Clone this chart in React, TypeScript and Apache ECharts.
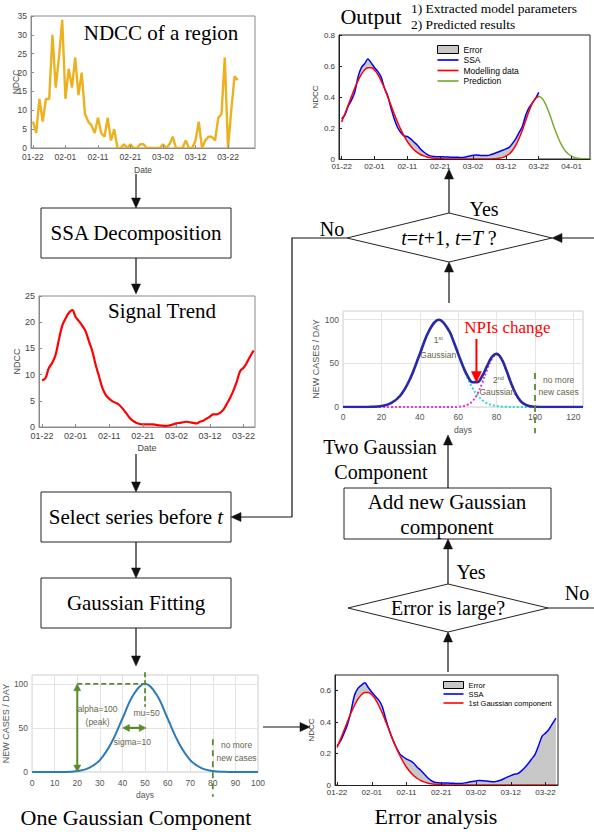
import React, { useEffect, useRef } from "react";
import * as echarts from "echarts";

// ---------- DATA ----------
const dateTicks = ["01-22", "02-01", "02-11", "02-21", "03-02", "03-12", "03-22", "04-01"];
const dateTickDays = [0, 10, 20, 30, 40, 50, 60, 70];

// daily NDCC of a region (from 01-22)
const ndccRegion = [7, 4, 13, 7, 13, 13, 30, 16, 24, 34, 13, 21, 16, 24, 14, 20, 9, 7, 6, 4, 8, 4, 3, 8, 2, 5, 0, 0, 1, 0, 1, 0, 0, 1, 1, 0, 0, 0, 0, 0, 1, 0, 1, 3, 0, 0, 0, 2, 0, 0, 2, 7, 0, 2, 3, 3, 2, 8, 9, 24, 0, 10, 19, 18];

// SSA signal trend
const signalTrend = [8.9, 9.3, 11.2, 12.2, 13.7, 16.6, 19.3, 20.7, 21.8, 22.3, 21.0, 20.2, 19.3, 18.2, 16.3, 14.4, 11.8, 9.6, 7.4, 6.1, 5.4, 4.9, 4.6, 4.2, 3.5, 2.7, 1.8, 1.2, 0.8, 0.6, 0.5, 0.5, 0.5, 0.5, 0.4, 0.3, 0.25, 0.2, 0.3, 0.5, 0.7, 0.8, 0.9, 1.0, 0.9, 0.8, 0.7, 1.0, 1.2, 1.6, 2.0, 2.4, 2.4, 2.7, 3.3, 4.4, 5.6, 7.0, 8.7, 10.7, 11.3, 12.3, 13.5, 14.6];

// Output panel (normalised), days 0..60
const outSSA = [0.26, 0.285, 0.34, 0.38, 0.43, 0.53, 0.59, 0.615, 0.645, 0.62, 0.59, 0.565, 0.53, 0.46, 0.41, 0.33, 0.26, 0.205, 0.17, 0.15, 0.145, 0.13, 0.11, 0.09, 0.065, 0.045, 0.03, 0.02, 0.016, 0.015, 0.015, 0.014, 0.013, 0.012, 0.011, 0.011, 0.01, 0.01, 0.014, 0.019, 0.024, 0.026, 0.024, 0.022, 0.023, 0.025, 0.032, 0.04, 0.048, 0.056, 0.065, 0.075, 0.1, 0.13, 0.17, 0.21, 0.28, 0.33, 0.36, 0.39, 0.43];
const outModel = [0.239, 0.292, 0.348, 0.404, 0.458, 0.506, 0.546, 0.574, 0.588, 0.588, 0.574, 0.546, 0.506, 0.458, 0.404, 0.348, 0.292, 0.239, 0.191, 0.149, 0.113, 0.084, 0.06, 0.043, 0.029, 0.02, 0.013, 0.008, 0.005, 0.003, 0.002, 0.001, 0, 0, 0, 0, 0, 0, 0, 0, 0, 0, 0, 0, 0, 0, 0.001, 0.002, 0.005, 0.009, 0.018, 0.032, 0.055, 0.088, 0.132, 0.185, 0.246, 0.306, 0.357, 0.392, 0.405];
const outPredStartDay = 60;
const outPred = [0.405, 0.392, 0.357, 0.306, 0.246, 0.185, 0.132, 0.088, 0.055, 0.032, 0.018, 0.009, 0.0045, 0.002, 0.001, 0.0004, 0];

// Error analysis panel, days 0..63
const errSSA = [0.25, 0.28, 0.33, 0.385, 0.47, 0.57, 0.615, 0.635, 0.65, 0.62, 0.59, 0.565, 0.54, 0.5, 0.42, 0.35, 0.29, 0.24, 0.2, 0.18, 0.165, 0.155, 0.14, 0.115, 0.095, 0.072, 0.048, 0.03, 0.018, 0.014, 0.013, 0.013, 0.012, 0.011, 0.01, 0.009, 0.01, 0.014, 0.019, 0.023, 0.026, 0.028, 0.027, 0.025, 0.022, 0.02, 0.024, 0.03, 0.04, 0.05, 0.06, 0.068, 0.072, 0.088, 0.11, 0.135, 0.165, 0.195, 0.25, 0.31, 0.33, 0.355, 0.39, 0.425];
const errGauss1 = [0.239, 0.292, 0.348, 0.404, 0.458, 0.506, 0.546, 0.574, 0.588, 0.588, 0.574, 0.546, 0.506, 0.458, 0.404, 0.348, 0.292, 0.239, 0.191, 0.149, 0.113, 0.084, 0.06, 0.043, 0.029, 0.02, 0.013, 0.008, 0.005, 0.003, 0.002, 0.001, 0, 0, 0, 0, 0, 0, 0, 0, 0, 0, 0, 0, 0, 0, 0, 0, 0, 0, 0, 0, 0, 0, 0, 0, 0, 0, 0, 0, 0, 0, 0, 0];

// One Gaussian component illustration
const oneGaussDays = [0, 5, 10, 15, 20, 25, 30, 35, 40, 45, 50, 55, 60, 65, 70, 75, 80, 85, 90, 95, 100];
const oneGaussCases = [0, 0, 0, 0, 1.1, 4.4, 13.5, 32.5, 60.7, 88.2, 100, 88.2, 60.7, 32.5, 13.5, 4.4, 1.1, 0.2, 0, 0, 0];

// Two Gaussian components illustration
const twoDays = [0, 5, 10, 15, 20, 25, 30, 35, 40, 45, 50, 55, 57.5, 60, 62.5, 65, 67.5, 70, 72.5, 75, 77.5, 80, 82.5, 85, 87.5, 90, 92.5, 95, 97.5, 100, 105, 110, 115, 120, 125];
const twoFirst = [0, 0, 0, 0.2, 1.1, 4.4, 13.5, 32.5, 60.7, 88.2, 100, 88.2, 75.5, 60.7, 45.8, 32.5, 21.6, 13.5, 8.0, 4.4, 2.3, 1.1, 0.5, 0.2, 0.1, 0, 0, 0, 0, 0, 0, 0, 0, 0, 0];
const twoSecond = [0, 0, 0, 0, 0, 0, 0, 0, 0, 0, 0, 0.01, 0.05, 0.23, 0.85, 2.6, 6.8, 15, 27.5, 42.4, 55, 60, 55, 42.4, 27.5, 15, 6.8, 2.6, 0.85, 0.23, 0, 0, 0, 0, 0];
const twoTotal = [0, 0, 0, 0.2, 1.1, 4.4, 13.5, 32.5, 60.7, 88.2, 100, 88.2, 75.6, 60.9, 46.7, 35.1, 28.4, 28.5, 35.5, 46.8, 57.3, 61.1, 55.5, 42.6, 27.6, 15, 6.8, 2.6, 0.85, 0.23, 0, 0, 0, 0, 0];

// ---------- STYLE ----------
const SANS = "Liberation Sans, Arial, sans-serif";
const SERIF = "Liberation Serif, Times New Roman, serif";
const GREEN = "#5a8a2e";
const ANNO = "#66664a";
const LINE_ICON = "path://M0,0H20V1.6H0Z";

const pairs = (vals: number[], start = 0) => vals.map((v, i) => [start + i, v]);
const pairsXY = (xs: number[], ys: number[]) => xs.map((x, i) => [x, ys[i]]);

function dateX(gridIndex: number, min: number, max: number, line: string, label: string, fontSize: number, margin: number, name?: string, nameGap?: number) {
  const vals = dateTickDays.filter((d) => d <= max);
  return {
    type: "value", gridIndex, min, max, z: 5,
    name, nameLocation: "middle", nameGap,
    nameTextStyle: { fontFamily: SANS, fontSize, color: label },
    axisLine: { show: true, onZero: false, lineStyle: { color: line, width: 1 } },
    axisTick: { show: true, inside: true, length: 3, customValues: vals, lineStyle: { color: line } },
    axisLabel: { customValues: vals, formatter: (v: number) => dateTicks[Math.round(v / 10)] ?? "", fontFamily: SANS, fontSize, color: label, margin },
    splitLine: { show: false },
  };
}
function ndccY(gridIndex: number, max: number, values: number[], line: string, label: string, fontSize: number, nameGap: number, extra: any = {}) {
  return {
    type: "value", gridIndex, min: 0, max, z: 5,
    name: "NDCC", nameLocation: "middle", nameGap, nameRotate: 90,
    nameTextStyle: { fontFamily: SANS, fontSize, color: label },
    axisLine: { show: true, onZero: false, lineStyle: { color: line, width: 1 } },
    axisTick: { show: true, inside: true, length: 3, customValues: values, lineStyle: { color: line } },
    axisLabel: { customValues: values, fontFamily: SANS, fontSize, color: label, margin: 4 },
    splitLine: { show: false },
    ...extra,
  };
}
function shotX(gridIndex: number, max: number, step: number, nameGap: number, margin: number) {
  return {
    type: "value", gridIndex, min: 0, max, interval: step,
    name: "days", nameLocation: "middle", nameGap,
    nameTextStyle: { fontFamily: SANS, fontSize: 8.5, color: "#555" },
    axisLine: { show: false }, axisTick: { show: false },
    axisLabel: { formatter: (v: number) => (v % step === 0 ? String(v) : ""), fontFamily: SANS, fontSize: 8.5, color: "#555", margin },
    splitLine: { show: true, lineStyle: { color: "#e4e4e4", width: 1 } },
  };
}
function shotY(gridIndex: number, nameGap: number) {
  return {
    type: "value", gridIndex, min: 0, max: 110, interval: 50,
    name: "NEW CASES / DAY", nameLocation: "middle", nameGap, nameRotate: 90,
    nameTextStyle: { fontFamily: SANS, fontSize: 9, color: "#555" },
    axisLine: { show: false }, axisTick: { show: false },
    axisLabel: { formatter: (v: number) => (v % 50 === 0 ? String(v) : ""), showMaxLabel: false, fontFamily: SANS, fontSize: 8.5, color: "#555", margin: 4 },
    splitLine: { show: true, lineStyle: { color: "#e4e4e4", width: 1 } },
  };
}
const line = (name: string, data: any[], gi: number, color: string, width: number, extra: any = {}) => ({
  type: "line", name, data, xAxisIndex: gi, yAxisIndex: gi, showSymbol: false, symbol: "none",
  lineStyle: { color, width }, itemStyle: { color }, ...extra,
});
// grey band between two curves: grey area under the upper curve, white area under the lower one
function errorFill(prefix: string, gi: number, a: number[], b: number[]) {
  const upper = a.map((u, i) => Math.max(u, b[i]));
  const lower = a.map((u, i) => Math.min(u, b[i]));
  return [
    line("Error", pairs(upper), gi, "#c8c8c8", 0, { smooth: 0.3, silent: true, areaStyle: { color: "#c8c8c8", opacity: 1, origin: "start" } }),
    line(prefix + "_cover", pairs(lower), gi, "#ffffff", 0, { smooth: 0.3, silent: true, areaStyle: { color: "#ffffff", opacity: 1, origin: "start" } }),
  ];
}

// annotation anchors (data coordinates)
const oneAnno = {
  peakGuide: [[20, 100], [50, 100]],
  muGuide: [[50, 113], [50, 74]],
  endGuide: [[80, 37], [80, -28]],
  alphaArrow: [[20, 0], [20, 100]],
  sigmaArrow: [[40, 50], [50.5, 50]],
  texts: [
    { t: "alpha=100", p: [29, 72] }, { t: "(peak)", p: [29, 57] },
    { t: "mu=50", p: [50.7, 67] }, { t: "sigma=10", p: [44.4, 34] },
    { t: "no more", p: [90.5, 31] }, { t: "new cases", p: [90.5, 16] },
  ],
};
const twoAnno = {
  endGuide: [[100, 39], [100, -30]],
  npiArrow: [[69.5, 78], [69.5, 28]],
  npiLabel: [85.6, 91],
  texts: [
    { t: "Gaussian", p: [49.6, 59.5] }, { t: "Gaussian", p: [80.4, 17] },
    { t: "no more", p: [112.3, 31] }, { t: "new cases", p: [112.3, 17] },
  ],
  sup: [{ n: "1", s: "st", p: [49.6, 77] }, { n: "2", s: "nd", p: [80.9, 31] }],
};

// ---------- graphic helpers ----------
function head(tip: number[], from: number[], len: number, hw: number, color: string) {
  const dx = tip[0] - from[0], dy = tip[1] - from[1];
  const d = Math.hypot(dx, dy) || 1;
  const ux = dx / d, uy = dy / d;
  const bx = tip[0] - ux * len, by = tip[1] - uy * len;
  return { type: "polygon", z: 50, shape: { points: [[tip[0], tip[1]], [bx - uy * hw, by + ux * hw], [bx + uy * hw, by - ux * hw]] }, style: { fill: color, stroke: color, lineWidth: 0.5 } };
}
function seg(a: number[], b: number[], color = "#111", lw = 1.2, dash?: number[]) {
  return { type: "line", z: 50, shape: { x1: a[0], y1: a[1], x2: b[0], y2: b[1] }, style: { stroke: color, lineWidth: lw, lineDash: dash } };
}
function arrow(from: number[], to: number[], color = "#111", lw = 1.2, len = 10, hw = 4.5) {
  const dx = to[0] - from[0], dy = to[1] - from[1];
  const d = Math.hypot(dx, dy) || 1;
  const end = [to[0] - (dx / d) * len * 0.7, to[1] - (dy / d) * len * 0.7];
  return [seg(from, end, color, lw), head(to, from, len, hw, color)];
}
function dblArrow(a: number[], b: number[], color: string, lw = 2, len = 7, hw = 3.5) {
  const dx = b[0] - a[0], dy = b[1] - a[1];
  const d = Math.hypot(dx, dy) || 1;
  const ux = dx / d, uy = dy / d;
  return [
    seg([a[0] + ux * len * 0.7, a[1] + uy * len * 0.7], [b[0] - ux * len * 0.7, b[1] - uy * len * 0.7], color, lw),
    head(a, b, len, hw, color), head(b, a, len, hw, color),
  ];
}
function txt(text: string, x: number, y: number, size: number, extra: any = {}) {
  return { type: "text", z: 60, x, y, style: { text, fontSize: size, fontFamily: SERIF, fill: "#000", align: "center", verticalAlign: "middle", ...extra } };
}
function box(x: number, y: number, w: number, h: number) {
  return { type: "rect", z: 40, shape: { x, y, width: w, height: h }, style: { fill: "#fff", stroke: "#222", lineWidth: 1 } };
}
function diamond(l: number[], t: number[], r: number[], b: number[]) {
  return { type: "polygon", z: 40, shape: { points: [l, t, r, b] }, style: { fill: "#fff", stroke: "#222", lineWidth: 1 } };
}

const errorIcon = { name: "Error", icon: "rect", itemStyle: { color: "#c8c8c8", borderColor: "#000", borderWidth: 1 } };

export default function App() {
  const ref = useRef<HTMLDivElement>(null);
  useEffect(() => {
    if (!ref.current) return;
    const chart = echarts.init(ref.current, null, { renderer: "svg" });
    const option: any = {
      animation: false,
      backgroundColor: "#fff",
      grid: [
        { left: 31, top: 16, width: 224, height: 132, show: true, borderColor: "#8a8a8a", borderWidth: 1, backgroundColor: "rgba(0,0,0,0)" },
        { left: 39, top: 296, width: 216, height: 131, show: true, borderColor: "#8a8a8a", borderWidth: 1, backgroundColor: "rgba(0,0,0,0)" },
        { left: 339, top: 35, width: 251, height: 124, show: true, borderColor: "#222", borderWidth: 1, backgroundColor: "rgba(0,0,0,0)" },
        { left: 343, top: 311, width: 240, height: 96, show: true, borderColor: "#cfcfcf", borderWidth: 1, backgroundColor: "rgba(0,0,0,0)" },
        { left: 32, top: 675, width: 226, height: 97, show: true, borderColor: "#cfcfcf", borderWidth: 1, backgroundColor: "rgba(0,0,0,0)" },
        { left: 335, top: 675, width: 223, height: 110, show: true, borderColor: "#222", borderWidth: 1, backgroundColor: "rgba(0,0,0,0)" },
      ],
      xAxis: [
        dateX(0, -0.6, 68.3, "#8a8a8a", "#444", 8.5, 4, "Date", 17),
        dateX(1, -0.9, 63.4, "#8a8a8a", "#444", 9, 4, "Date", 16),
        dateX(2, -0.8, 75.6, "#222", "#333", 8, 3.5),
        shotX(3, 125, 20, 18, 5.5),
        shotX(4, 100, 10, 18, 6.5),
        dateX(5, -0.6, 63.6, "#222", "#333", 8, 3.5),
      ],
      yAxis: [
        ndccY(0, 35, [0, 5, 10, 15, 20, 25, 30, 35], "#8a8a8a", "#444", 8.5, 11, { nameMoveOverlap: false }),
        ndccY(1, 25, [0, 5, 10, 15, 20, 25], "#8a8a8a", "#444", 9, 17),
        ndccY(2, 0.8, [0, 0.2, 0.4, 0.6, 0.8], "#222", "#333", 8, 17),
        shotY(3, 21),
        shotY(4, 19),
        ndccY(5, 0.7, [0, 0.2, 0.4, 0.6], "#222", "#333", 8, 16),
      ],
      legend: [
        {
          left: 437, top: 45, orient: "vertical", itemWidth: 21, itemHeight: 8, itemGap: 1.5, padding: 0, selectedMode: false,
          textStyle: { fontFamily: SANS, fontSize: 8.5, color: "#000" },
          data: [errorIcon, { name: "SSA", icon: LINE_ICON }, { name: "Modelling data", icon: LINE_ICON }, { name: "Prediction", icon: LINE_ICON }],
        },
        {
          left: 443, top: 681, orient: "vertical", itemWidth: 20, itemHeight: 7, itemGap: 1, padding: 0, selectedMode: false,
          textStyle: { fontFamily: SANS, fontSize: 7.5, color: "#000" },
          data: [errorIcon, { name: "SSA", icon: LINE_ICON }, { name: "1st Gaussian component", icon: LINE_ICON }],
        },
      ],
      series: [
        line("NDCC region", pairs(ndccRegion), 0, "#EDB120", 2.4),
        line("Signal trend", pairs(signalTrend), 1, "#ff0000", 2.2, { smooth: 0.4 }),
        ...errorFill("out", 2, outSSA, outModel),
        line("SSA", pairs(outSSA), 2, "#0000ff", 1.5, { smooth: 0.3 }),
        line("Modelling data", pairs(outModel), 2, "#ff0000", 1.5, { smooth: 0.3 }),
        line("Prediction", pairs(outPred, outPredStartDay), 2, "#77AC30", 1.5, { smooth: 0.3 }),
        line("First Gaussian", pairsXY(twoDays, twoFirst), 3, "#38d4d4", 2, { smooth: 0.4, lineStyle: { color: "#38d4d4", width: 2, type: "dotted" } }),
        line("Second Gaussian", pairsXY(twoDays, twoSecond), 3, "#d43bd4", 2, { smooth: 0.4, lineStyle: { color: "#d43bd4", width: 2, type: "dotted" } }),
        line("Two Gaussians", pairsXY(twoDays, twoTotal), 3, "#2828a8", 2.6, { smooth: 0.4 }),
        line("One Gaussian", pairsXY(oneGaussDays, oneGaussCases), 4, "#2c7bb9", 2, { smooth: 0.4 }),
        ...errorFill("err", 5, errSSA, errGauss1),
        line("SSA", pairs(errSSA), 5, "#0000ff", 1.5, { smooth: 0.3 }),
        line("1st Gaussian component", pairs(errGauss1), 5, "#ff0000", 1.5, { smooth: 0.3 }),
      ],
    };
    chart.setOption(option);

    const px = (g: number, p: number[]) => chart.convertToPixel({ gridIndex: g }, p) as number[];
    const annoText = (t: string, p: number[], size = 8.5, color = ANNO) =>
      ({ type: "text", z: 60, x: p[0], y: p[1], style: { text: t, fontSize: size, fontFamily: SANS, fill: color, align: "center", verticalAlign: "middle" } });

    const g: any[] = [];
    // flowchart boxes / diamonds
    g.push(box(41, 208, 190, 50), box(41, 492, 190, 50), box(41, 578, 190, 50), box(344, 488, 207, 51));
    g.push(diamond([347, 238], [449, 213], [552, 238], [449, 262]));
    g.push(diamond([348, 608], [448, 584], [548, 608], [448, 632]));
    // connectors
    g.push(...arrow([136, 174], [136, 208]));
    g.push(...arrow([136, 258], [136, 294]));
    g.push(...arrow([136, 454], [136, 492]));
    g.push(...arrow([136, 542], [136, 578]));
    g.push(...arrow([136, 628], [136, 666]));
    g.push({ type: "polyline", z: 50, shape: { points: [[347, 238], [292, 238], [292, 517]] }, style: { stroke: "#111", lineWidth: 1.2, fill: "none" } });
    g.push(...arrow([292, 517], [231, 517]));
    g.push(...arrow([263, 727], [310, 727]));
    g.push(...arrow([449, 303], [449, 262]));
    g.push(...arrow([449, 213], [449, 169]));
    g.push(...arrow([594, 238], [552, 238]));
    g.push(...arrow([448, 488], [448, 435]));
    g.push(...arrow([448, 584], [448, 539]));
    g.push(...arrow([448, 672], [448, 632]));
    g.push(seg([548, 608], [594, 608]));
    // flowchart texts
    g.push(txt("NDCC of a region", 161, 33, 21));
    g.push(txt("SSA Decomposition", 136, 233, 21));
    g.push(txt("Signal Trend", 162, 311, 21));
    g.push({ type: "text", z: 60, x: 136, y: 517, style: { text: "Select series before {i|t}", fontSize: 21, fontFamily: SERIF, fill: "#000", align: "center", verticalAlign: "middle", rich: { i: { fontSize: 21, fontFamily: SERIF, fontStyle: "italic", fill: "#000" } } } });
    g.push(txt("Gaussian Fitting", 136, 603, 21));
    g.push(txt("One Gaussian Component", 136, 817, 22));
    g.push(txt("Output", 371, 16, 22));
    g.push(txt("1) Extracted model parameters", 411, 8, 13.5, { align: "left" }));
    g.push(txt("2) Predicted results", 411, 24, 13.5, { align: "left" }));
    g.push(txt("Yes", 484, 209, 20));
    g.push(txt("No", 332, 229, 20));
    g.push({ type: "text", z: 60, x: 449, y: 238, style: { text: "{i|t}={i|t}+1, {i|t}={i|T} ?", fontSize: 20, fontFamily: SERIF, fill: "#000", align: "center", verticalAlign: "middle", rich: { i: { fontSize: 20, fontFamily: SERIF, fontStyle: "italic", fill: "#000" } } } });
    g.push(txt("Two Gaussian", 380, 447, 20));
    g.push(txt("Component", 381, 472, 20));
    g.push(txt("Add new Gaussian", 447, 502, 21));
    g.push(txt("component", 447, 527, 21));
    g.push(txt("Yes", 471, 572, 20));
    g.push(txt("Error is large?", 448, 608, 20));
    g.push(txt("No", 577, 593, 20));
    g.push(txt("Error analysis", 436, 816, 22));

    // one-gaussian annotations
    g.push(seg(px(4, oneAnno.peakGuide[0]), px(4, oneAnno.peakGuide[1]), GREEN, 1.8, [5, 3]));
    g.push(seg(px(4, oneAnno.muGuide[0]), px(4, oneAnno.muGuide[1]), GREEN, 1.8, [5, 3]));
    g.push(seg(px(4, oneAnno.endGuide[0]), px(4, oneAnno.endGuide[1]), GREEN, 1.8, [6, 5]));
    g.push(...dblArrow(px(4, oneAnno.alphaArrow[0]), px(4, oneAnno.alphaArrow[1]), GREEN, 2));
    g.push(...dblArrow(px(4, oneAnno.sigmaArrow[0]), px(4, oneAnno.sigmaArrow[1]), GREEN, 2.2));
    oneAnno.texts.forEach((a) => g.push(annoText(a.t, px(4, a.p))));
    // two-gaussian annotations
    g.push(seg(px(3, twoAnno.endGuide[0]), px(3, twoAnno.endGuide[1]), GREEN, 1.8, [6, 5]));
    g.push(...arrow(px(3, twoAnno.npiArrow[0]), px(3, twoAnno.npiArrow[1]), "#ff0000", 2, 11, 5));
    const npi = px(3, twoAnno.npiLabel);
    g.push(txt("NPIs change", npi[0], npi[1], 17, { fill: "#ff0000" }));
    twoAnno.texts.forEach((a) => g.push(annoText(a.t, px(3, a.p))));
    twoAnno.sup.forEach((a) => {
      const p = px(3, a.p);
      g.push({ type: "text", z: 60, x: p[0], y: p[1], style: { text: a.n + "{s|" + a.s + "}", fontSize: 8.5, fontFamily: SANS, fill: ANNO, align: "center", verticalAlign: "middle", rich: { s: { fontSize: 5.5, fontFamily: SANS, fill: ANNO, verticalAlign: "top", padding: [0, 0, 4, 0] } } } });
    });

    chart.setOption({ graphic: g });
    return () => chart.dispose();
  }, []);
  return <div ref={ref} style={{ position: "fixed", left: 0, top: 0, width: 594, height: 832, background: "#fff" }} />;
}
